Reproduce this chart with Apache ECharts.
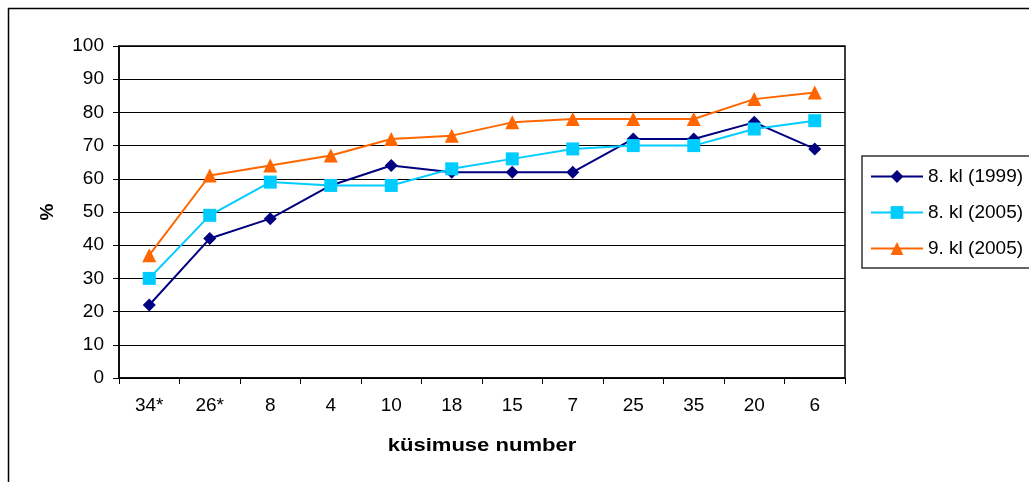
<!DOCTYPE html>
<html>
<head>
<meta charset="utf-8">
<script src="https://cdn.jsdelivr.net/npm/echarts@6/dist/echarts.min.js"></script>
<style>
html,body{margin:0;padding:0;background:#fff;}
#c{width:1029px;height:482px;}
</style>
</head>
<body>
<div id="c"></div>
<script>
const categories = ['34*','26*','8','4','10','18','15','7','25','35','20','6'];
const s1999_8 = [22,42,48,58,64,62,62,62,72,72,77,69];
const s2005_8 = [30,49,59,58,58,63,66,69,70,70,75,77.5];
const s2005_9 = [37,61,64,67,72,73,77,78,78,78,84,86];
const seriesNames = ['8. kl (1999)','8. kl (2005)','9. kl (2005)'];
const yTicks = {min:0, max:100, interval:10};
const xTitle = 'küsimuse number';
const yTitle = '%';

const font = '"Liberation Sans", Arial, sans-serif';
const chart = echarts.init(document.getElementById('c'), null, {renderer:'canvas'});
function mk(name, data, color, symbol, size){
  return {name, type:'line', data, symbol, symbolSize:size,
    lineStyle:{color, width:2}, itemStyle:{color},
    emphasis:{disabled:true}, animation:false};
}
chart.setOption({
  animation:false,
  backgroundColor:'#fff',
  graphic:[
    {type:'rect', shape:{x:8.5,y:8.5,width:1100,height:600},
      style:{fill:'none', stroke:'#000', lineWidth:1.5}, z:-1},
    {type:'text', x:482, y:446, scaleX:1.16, originX:0, originY:0,
      style:{text:xTitle, font:'bold 19px "Liberation Sans", Arial, sans-serif', fill:'#000',
        textAlign:'center', textVerticalAlign:'middle'}}
  ],
  grid:{left:119, top:46, width:726, height:332, show:true, borderColor:'#000', borderWidth:1.5, backgroundColor:'transparent'},
  legend:{left:862, top:156, orient:'vertical', itemWidth:52, itemHeight:16, itemGap:17,
    padding:[11,40,10,8], borderColor:'#333', borderWidth:1.5,
    textStyle:{fontFamily:font, fontSize:19, color:'#000', padding:[0,0,0,0]},
    data:seriesNames},
  xAxis:{type:'category', data:categories, boundaryGap:true,
    axisLine:{lineStyle:{color:'#000', width:1.5}},
    axisTick:{show:true, length:6, lineStyle:{color:'#000'}},
    axisLabel:{fontFamily:font, fontSize:19, color:'#000', margin:18}},
  yAxis:{type:'value', min:yTicks.min, max:yTicks.max, interval:yTicks.interval,
    axisLine:{show:true, lineStyle:{color:'#000', width:1.5}},
    axisTick:{show:true, length:6, lineStyle:{color:'#000'}},
    axisLabel:{fontFamily:font, fontSize:19, color:'#000', margin:15},
    splitLine:{lineStyle:{color:'#000', width:1}},
    name:yTitle, nameLocation:'middle', nameGap:62, nameRotate:90,
    nameTextStyle:{fontFamily:font, fontSize:19, fontWeight:'bold', color:'#000'}},
  series:[
    mk(seriesNames[0], s1999_8, '#000080', 'diamond', 13),
    mk(seriesNames[1], s2005_8, '#00CCFF', 'rect', 13),
    mk(seriesNames[2], s2005_9, '#FF6600', 'triangle', 14)
  ]
});
</script>
</body>
</html>
